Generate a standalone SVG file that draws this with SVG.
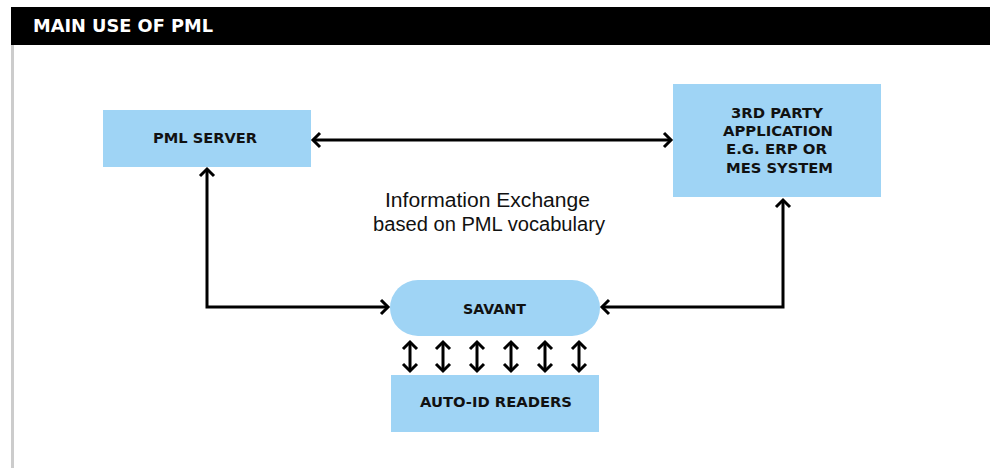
<svg xmlns="http://www.w3.org/2000/svg" width="990" height="468" viewBox="0 0 990 468">
  <style>
    .box { fill: #9fd4f5; }
    .lbl { font-family: "DejaVu Sans", "Liberation Sans", sans-serif; font-weight: bold; font-size: 14px; fill: #111; }
    .conn { fill: none; stroke: #000; stroke-width: 3; }
    .note { font-family: "Liberation Sans", "Open Sans", sans-serif; font-size: 20px; fill: #111; }
  </style>
  <defs>
    <marker id="ah" markerUnits="userSpaceOnUse" markerWidth="20" markerHeight="20" viewBox="-10 -10 20 20" refX="0" refY="0" orient="auto-start-reverse">
      <path d="M-7,-7 L0,0 L-7,7" fill="none" stroke="#000" stroke-width="3"/>
    </marker>
  </defs>
  <rect x="0" y="0" width="990" height="468" fill="#fff"/>
  <g id="header">
    <rect x="11" y="7" width="979" height="38" fill="#000"/>
    <rect x="11" y="45" width="3" height="423" fill="#cccccc"/>
    <text x="33" y="32" font-family="DejaVu Sans, Liberation Sans, sans-serif" font-weight="bold" font-size="18" fill="#fff" textLength="180" lengthAdjust="spacingAndGlyphs">MAIN USE OF PML</text>
  </g>
  <g id="pml-server">
    <rect class="box" x="103" y="110" width="208" height="57"/>
    <text class="lbl" x="153" y="143" textLength="104" lengthAdjust="spacingAndGlyphs">PML SERVER</text>
  </g>
  <g id="third-party">
    <rect class="box" x="673" y="84" width="208" height="113"/>
    <text class="lbl" x="731" y="118" textLength="92" lengthAdjust="spacingAndGlyphs">3RD PARTY</text>
    <text class="lbl" x="723" y="136" textLength="110" lengthAdjust="spacingAndGlyphs">APPLICATION</text>
    <text class="lbl" x="726" y="154" textLength="101" lengthAdjust="spacingAndGlyphs">E.G. ERP OR</text>
    <text class="lbl" x="726" y="173" textLength="107" lengthAdjust="spacingAndGlyphs">MES SYSTEM</text>
  </g>
  <g id="savant">
    <rect class="box" x="390" y="280" width="210" height="56" rx="28" ry="28"/>
    <text class="lbl" x="463" y="314" textLength="63" lengthAdjust="spacingAndGlyphs">SAVANT</text>
  </g>
  <g id="auto-id-readers">
    <rect class="box" x="391" y="375" width="208" height="57"/>
    <text class="lbl" x="420" y="407" textLength="152" lengthAdjust="spacingAndGlyphs">AUTO-ID READERS</text>
  </g>
  <g id="info-label">
    <text class="note" x="385" y="207" textLength="205" lengthAdjust="spacingAndGlyphs">Information Exchange</text>
    <text class="note" x="373" y="231" textLength="232" lengthAdjust="spacingAndGlyphs">based on PML vocabulary</text>
  </g>
  <g id="connectors">
    <line class="conn" x1="313" y1="140" x2="671" y2="140" marker-start="url(#ah)" marker-end="url(#ah)"/>
    <path class="conn" d="M207,169 V307 H388" marker-start="url(#ah)" marker-end="url(#ah)"/>
    <path class="conn" d="M602,307 H783 V200" marker-start="url(#ah)" marker-end="url(#ah)"/>
    <line class="conn" x1="410" y1="342" x2="410" y2="371" marker-start="url(#ah)" marker-end="url(#ah)"/>
    <line class="conn" x1="443" y1="342" x2="443" y2="371" marker-start="url(#ah)" marker-end="url(#ah)"/>
    <line class="conn" x1="477" y1="342" x2="477" y2="371" marker-start="url(#ah)" marker-end="url(#ah)"/>
    <line class="conn" x1="511" y1="342" x2="511" y2="371" marker-start="url(#ah)" marker-end="url(#ah)"/>
    <line class="conn" x1="545" y1="342" x2="545" y2="371" marker-start="url(#ah)" marker-end="url(#ah)"/>
    <line class="conn" x1="579" y1="342" x2="579" y2="371" marker-start="url(#ah)" marker-end="url(#ah)"/>
  </g>
</svg>
